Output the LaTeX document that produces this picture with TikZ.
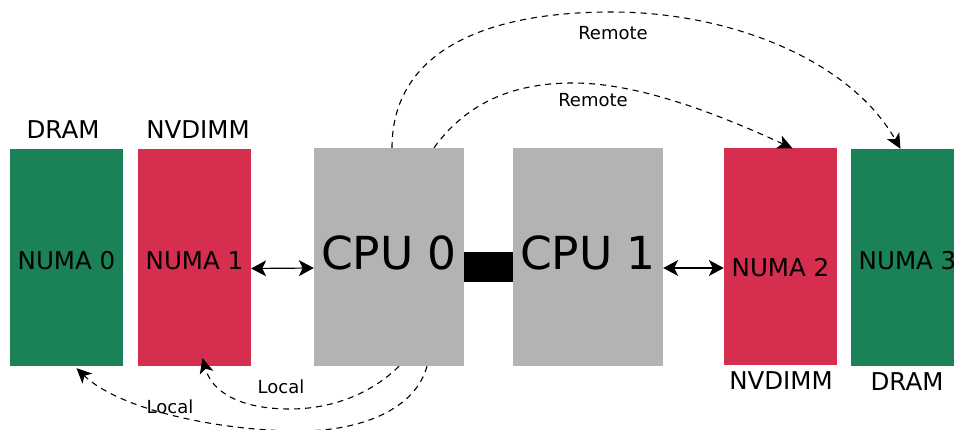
\documentclass[tikz,border=0pt]{standalone}
\usepackage{fontspec}
\setmainfont{DejaVu Sans}
\usetikzlibrary{arrows.meta}
\definecolor{dramgreen}{HTML}{1A8256}
\definecolor{nvred}{HTML}{D62E4F}
\definecolor{cpugray}{HTML}{B3B3B3}
\tikzset{
  block/.style={inner sep=0pt, minimum width=113, minimum height=217, text height=25pt, text depth=0pt, font=\fontsize{24.5}{29}\selectfont},
  dram/.style={block, fill=dramgreen},
  nvdimm/.style={block, fill=nvred},
  cpu/.style={block, fill=cpugray, minimum width=150, minimum height=218, font=\fontsize{45.5}{54}\selectfont},
  bus/.style={fill=black, inner sep=0pt, minimum width=49, minimum height=30},
  memlabel/.style={inner sep=0pt, font=\fontsize{24.5}{29}\selectfont},
  small/.style={inner sep=0pt, font=\fontsize{18}{22}\selectfont},
  head/.tip={Stealth[length=15pt,width=16pt,inset=4pt]},
  dhead/.tip={Stealth[length=15pt,width=14pt,inset=4pt]},
  link/.style={line width=1.2pt, head-head},
  access/.style={line width=1.1pt, dash pattern=on 6pt off 5pt, -dhead},
}

\begin{document}
\begin{tikzpicture}[x=1pt,y=-1pt]
  \clip (0,0) rectangle (954,430);

  % blocks
  \node[dram]   (numa0) at (66.5,257.5) {NUMA 0};
  \node[nvdimm] (numa1) at (194.5,257.5) {NUMA 1};
  \node[cpu]    (cpu0)  at (389,257) {CPU 0};
  \node[cpu]    (cpu1)  at (588,257) {CPU 1};
  \node[bus]    (qpi)   at (488.5,267) {};
  \node[nvdimm, text height=40pt] (numa2) at (780.5,257) {NUMA 2};
  \node[dram]   (numa3) at (907.5,257.5) {NUMA 3};

  % memory kinds
  \node[memlabel] (kind0) at (63,130) {DRAM};
  \node[memlabel] (kind1) at (198,130) {NVDIMM};
  \node[memlabel] (kind2) at (781,381) {NVDIMM};
  \node[memlabel] (kind3) at (907,382) {DRAM};

  % direct attach
  \draw[link] ([yshift=-11pt]numa1.east) -- ([yshift=-11pt]cpu0.west);
  \draw[link] ([yshift=-11pt]cpu1.east) -- ([yshift=-11pt]numa2.west);

  % remote accesses
  \coordinate (rfar)  at ([xshift=3pt]cpu0.north);
  \coordinate (rnear) at ([xshift=45pt]cpu0.north);
  \coordinate (n2top) at ([xshift=12pt]numa2.north);
  \coordinate (n3top) at ([xshift=-7pt]numa3.north);
  \draw[access] (rfar) .. controls (392,60) and (470,12) .. (612,12)
                       .. controls (730,12) and (850,60) .. (n3top);
  \draw[access] (rnear) .. controls (465,105) and (510,83) .. (573,83)
                        .. controls (640,83) and (720,115) .. (n2top);
  \node[small] (remotefar)  at (613,33) {Remote};
  \node[small] (remotenear) at (593,100) {Remote};

  % local accesses
  \coordinate (lnear) at ([xshift=10pt]cpu0.south);
  \coordinate (lfar)  at ([xshift=38pt]cpu0.south);
  \coordinate (n1bot) at ([xshift=8pt,yshift=8pt]numa1.south);
  \coordinate (n0bot) at ([xshift=10pt,yshift=-2pt]numa0.south);
  \draw[access] (lnear) .. controls (370,395) and (330,409) .. (290,409)
                        .. controls (240,409) and (212,392) .. (n1bot);
  \draw[access] (lfar) .. controls (415,410) and (360,431) .. (300,431)
                       .. controls (220,431) and (120,410) .. (n0bot);
  \node[small] (localnear) at (281,387) {Local};
  \node[small] (localfar)  at (170,407) {Local};
\end{tikzpicture}
\end{document}
